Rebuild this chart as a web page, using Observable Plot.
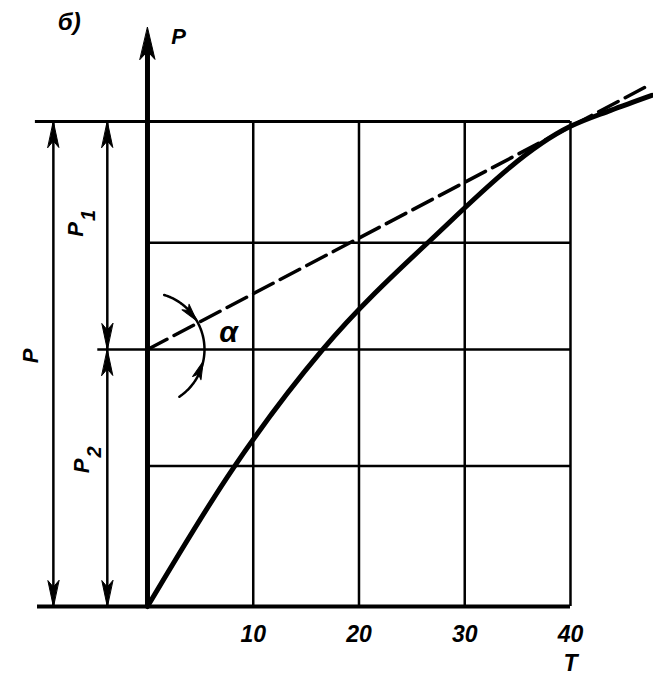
<!DOCTYPE html>
<html><head><meta charset="utf-8">
<script src="https://cdn.jsdelivr.net/npm/d3@7"></script>
<script src="https://cdn.jsdelivr.net/npm/@observablehq/plot@0.6"></script>
<style>body{margin:0;background:#fff}</style>
</head><body><div id="chart"></div>
<script>
// Curve P(T) (solid)
const curveT = [0, 8.1, 16.5, 26.4, 40, 43.8, 47.7];
const curveP = [0, 28.5, 52.8, 74.8, 99.0, 102.3, 105.4];
// Secant (dashed) from (0, P2) through the curve at T = 40
const secantT = [0, 47];
const secantP = [53, 107];
// Grid
const gridT = [10, 20, 30, 40];
const gridP = [0, 29, 53, 75, 100];
const gridPStart = [-10.4, 0, -4.7, 0, -10.6];
const tickLabels = ["10", "20", "30", "40"];
const Ptot = 100, P2 = 53;
const dimT = { P: -8.9, P12: -3.8 };

// scale geometry (px per unit) for pixel-sized annotations
const xDom = [-13.9, 47.85], yDom = [-16.9, 124.95];
const W = 653, H = 688;
const kx = W / (xDom[1] - xDom[0]), ky = H / (yDom[1] - yDom[0]);

const curve = curveT.map((t, i) => ({T: t, P: curveP[i]}));
const secant = secantT.map((t, i) => ({T: t, P: secantP[i]}));
const hLines = gridP.map((p, i) => ({P: p, x1: gridPStart[i], w: i === 0 ? 4 : (i === 4 ? 3 : 2.5)}));

// angle arc around (0, P2)
const R = 57;
const arc = d3.range(73, -57, -1).map(a => ({T: R * Math.cos(a * Math.PI / 180) / kx, P: P2 + R * Math.sin(a * Math.PI / 180) / ky}));
const arcHeads = [
  {a: 30, rot: 141},
  {a: -12, rot: 21}
].map(d => ({T: R * Math.cos(d.a * Math.PI / 180) / kx, P: P2 + R * Math.sin(d.a * Math.PI / 180) / ky, rot: d.rot}));

const spike = (w) => ({draw(ctx, l) {
  ctx.moveTo(0, -l); ctx.lineTo(w, 0); ctx.lineTo(0, -l * 0.25); ctx.lineTo(-w, 0); ctx.closePath();
}});

const dimHeads = [
  {T: dimT.P, P: Ptot, rot: 0}, {T: dimT.P, P: 0, rot: 180},
  {T: dimT.P12, P: Ptot, rot: 0}, {T: dimT.P12, P: P2, rot: 180},
  {T: dimT.P12, P: P2, rot: 0}, {T: dimT.P12, P: 0, rot: 180}
];

const font = {fontFamily: "Liberation Sans, DejaVu Sans, sans-serif", fontStyle: "italic", fontWeight: "bold", fill: "black"};

const chart = Plot.plot({
  width: W, height: H, margin: 0,
  x: {domain: xDom, axis: null},
  y: {domain: yDom, axis: null},
  style: {background: "white"},
  marks: [
    Plot.ruleX(gridT, {x: d => d, y1: 0, y2: Ptot, stroke: "black", strokeWidth: 2.5}),
    Plot.ruleY(hLines, {y: "P", x1: "x1", x2: 40, stroke: "black", strokeWidth: "w"}),
    Plot.ruleX([dimT.P], {x: d => d, y1: 0, y2: Ptot, stroke: "black", strokeWidth: 2.5}),
    Plot.ruleX([dimT.P12], {x: d => d, y1: 0, y2: Ptot, stroke: "black", strokeWidth: 2.5}),
    Plot.vector(dimHeads, {x: "T", y: "P", rotate: "rot", length: 26, anchor: "end", shape: spike(5.5), fill: "black", stroke: "black", strokeWidth: 1}),
    Plot.ruleX([0], {x: d => d, y1: 0, y2: 116, stroke: "black", strokeWidth: 5}),
    Plot.vector([{T: 0, P: 119.4}], {x: "T", y: "P", rotate: 0, length: 32, anchor: "end", shape: spike(7.5), fill: "black", stroke: "black", strokeWidth: 1}),
    Plot.line(secant, {x: "T", y: "P", stroke: "black", strokeWidth: 3.5, strokeDasharray: "22,8"}),
    Plot.line(curve, {x: "T", y: "P", stroke: "black", strokeWidth: 5, curve: "monotone-x", strokeLinecap: "round"}),
    Plot.line(arc, {x: "T", y: "P", stroke: "black", strokeWidth: 2.5}),
    Plot.vector(arcHeads, {x: "T", y: "P", rotate: "rot", length: 18, anchor: "end", shape: spike(4.5), fill: "black", stroke: "black", strokeWidth: 1}),
    Plot.text(gridT, {x: d => d, y: -5.8, text: (d, i) => tickLabels[i], fontSize: 23, ...font}),
    Plot.text(["T"], {x: 40, y: -11.8, text: d => d, fontSize: 23, ...font}),
    Plot.text(["P"], {x: 0, y: 117.5, dx: 31, text: d => d, fontSize: 22, ...font}),
    Plot.text(["б)"], {x: -7.4, y: 120.5, text: d => d, fontSize: 24, ...font}),
    Plot.text(["α"], {x: 0, y: P2, dx: 81, dy: -17, text: d => d, fontSize: 30, ...font}),
    Plot.text(["P"], {x: dimT.P, y: Ptot / 2, dx: -22, dy: -8, rotate: -90, text: d => d, fontSize: 22, ...font}),
    Plot.text(["P"], {x: dimT.P12, y: (Ptot + P2) / 2, dx: -31, dy: -6, rotate: -90, text: d => d, fontSize: 22, ...font}),
    Plot.text(["1"], {x: dimT.P12, y: (Ptot + P2) / 2, dx: -19, dy: -20, rotate: -90, text: d => d, fontSize: 20, ...font}),
    Plot.text(["P"], {x: dimT.P12, y: P2 / 2, dx: -25, dy: -12, rotate: -90, text: d => d, fontSize: 22, ...font}),
    Plot.text(["2"], {x: dimT.P12, y: P2 / 2, dx: -13, dy: -26, rotate: -90, text: d => d, fontSize: 20, ...font})
  ]
});
document.getElementById("chart").append(chart);
</script>
</body></html>
